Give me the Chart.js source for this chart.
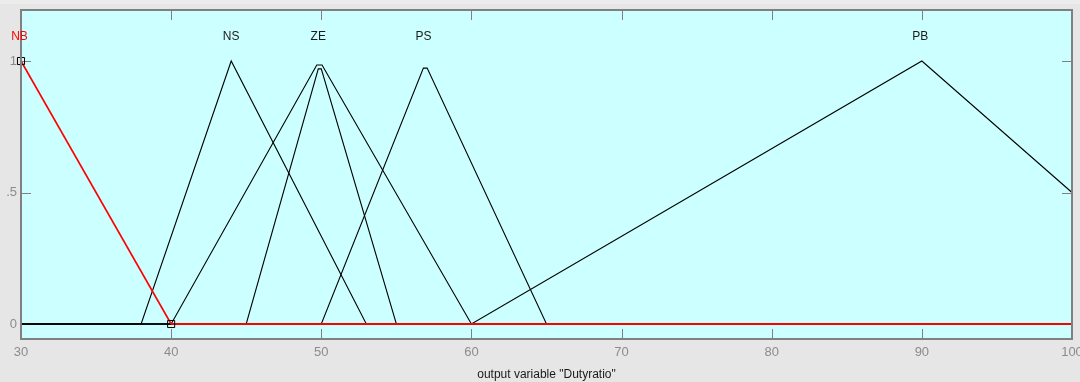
<!DOCTYPE html>
<html>
<head>
<meta charset="utf-8">
<script src="https://cdn.jsdelivr.net/npm/chart.js@4/dist/chart.umd.min.js"></script>
<style>
  body { margin: 0; background: #e6e6e6; }
  canvas { display: block; }
</style>
</head>
<body>
<canvas id="mf" width="1080" height="382"></canvas>
<script>
// Membership functions of output variable "Dutyratio"
const nbX = [30, 40];
const nbY = [1, 0];
const nbTailX = [40, 100];
const nbTailY = [0, 0];

const nsX = [30, 38, 44, 53, 100];
const nsY = [0, 0, 1, 0, 0];

const zeWideX = [30, 40, 49.7, 50.05, 60, 100];
const zeWideY = [0, 0, 0.985, 0.985, 0, 0];

const zeNarrowX = [30, 45, 49.8, 50, 55, 100];
const zeNarrowY = [0, 0, 0.97, 0.97, 0, 0];

const psX = [30, 50, 56.8, 57.05, 65, 100];
const psY = [0, 0, 0.973, 0.973, 0, 0];

const pbX = [30, 60, 90, 100];
const pbY = [0, 0, 1, 0.5];

// labels above each MF
const mfNames = ['NB', 'NS', 'ZE', 'PS', 'PB'];
const mfLabelX = [29.9, 44, 49.8, 56.8, 89.9];
const mfLabelY = 1.092;

// selected-MF handles
const handleX = [30, 40];
const handleY = [1, 0];

const xTicks = [30, 40, 50, 60, 70, 80, 90, 100];
const yTicks = [0, 0.5, 1];
const yTickText = ['0', '.5', '1'];

const pts = (xs, ys) => xs.map((x, i) => ({ x: x, y: ys[i] }));

// lower "order" is drawn on top
function line(xs, ys, color, width, order) {
    return {
        data: pts(xs, ys),
        showLine: true,
        borderColor: color,
        borderWidth: width,
        pointRadius: 0,
        tension: 0,
        order: order
    };
}

// Background, frame, inside ticks and MF names
const decor = {
    id: 'decor',
    beforeDraw(chart) {
        const c = chart.ctx, a = chart.chartArea;
        c.save();
        c.fillStyle = '#e6e6e6';
        c.fillRect(0, 0, chart.width, chart.height);
        c.fillStyle = '#ececec';
        c.fillRect(0, 0, chart.width, 4);
        c.fillStyle = '#ccffff';
        c.fillRect(a.left, a.top, a.right - a.left, a.bottom - a.top);
        c.restore();
    },
    beforeDatasetsDraw(chart) {
        const c = chart.ctx, a = chart.chartArea;
        const xs = chart.scales.x, ys = chart.scales.y;
        c.save();
        c.strokeStyle = '#808080';
        c.lineWidth = 1;
        c.beginPath();
        xTicks.forEach(v => {
            const px = Math.round(xs.getPixelForValue(v)) + 0.5;
            c.moveTo(px, a.top); c.lineTo(px, a.top + 10);
            c.moveTo(px, a.bottom); c.lineTo(px, a.bottom - 10);
        });
        yTicks.forEach(v => {
            const py = Math.round(ys.getPixelForValue(v)) + 0.5;
            c.moveTo(a.left, py); c.lineTo(a.left + 10, py);
            c.moveTo(a.right, py); c.lineTo(a.right - 10, py);
        });
        c.stroke();
        c.restore();
    },
    afterDatasetsDraw(chart) {
        const c = chart.ctx, a = chart.chartArea;
        const xs = chart.scales.x, ys = chart.scales.y;
        c.save();
        c.strokeStyle = '#808080';
        c.lineWidth = 2;
        c.strokeRect(a.left, a.top, a.right - a.left, a.bottom - a.top);

        c.font = '12px "Liberation Sans", Arial, sans-serif';
        c.textAlign = 'center';
        c.textBaseline = 'middle';
        mfNames.forEach((n, i) => {
            c.fillStyle = i === 0 ? '#ff0000' : '#1a1a1a';
            c.fillText(n, xs.getPixelForValue(mfLabelX[i]), ys.getPixelForValue(mfLabelY));
        });
        c.restore();
    }
};

new Chart(document.getElementById('mf'), {
    type: 'scatter',
    data: {
        datasets: [
            line(nsX, nsY, '#000000', 1.1, 5),
            line(zeWideX, zeWideY, '#000000', 1.1, 5),
            line(zeNarrowX, zeNarrowY, '#000000', 1.1, 5),
            line(psX, psY, '#000000', 1.1, 5),
            line(pbX, pbY, '#000000', 1.1, 5),
            line(nbTailX, nbTailY, '#ff0000', 2, 2),
            line(nbX, nbY, '#ff0000', 1.6, 2),
            {
                data: pts(handleX, handleY),
                pointStyle: 'rect',
                pointRadius: 5,
                pointBorderColor: '#000000',
                pointBackgroundColor: 'rgba(0,0,0,0)',
                pointBorderWidth: 1,
                showLine: false,
                order: 0
            }
        ]
    },
    options: {
        responsive: false,
        animation: false,
        clip: false,
        layout: { padding: { top: 10, right: 8, left: 0, bottom: 0 } },
        plugins: { legend: { display: false }, tooltip: { enabled: false } },
        scales: {
            x: {
                type: 'linear',
                min: 30, max: 100,
                afterBuildTicks: s => { s.ticks = xTicks.map(v => ({ value: v })); },
                afterFit: s => { s.height = 43; s.paddingLeft = 0; s.paddingRight = 0; },
                grid: { display: false, drawTicks: false },
                border: { display: false },
                ticks: {
                    padding: 6,
                    color: '#8c8c8c',
                    font: { family: '"Liberation Sans", Arial, sans-serif', size: 13 },
                    maxRotation: 0
                },
                title: {
                    display: true,
                    text: 'output variable "Dutyratio"',
                    color: '#1a1a1a',
                    padding: { top: 1, bottom: 0 },
                    font: { family: '"Liberation Sans", Arial, sans-serif', size: 12 }
                }
            },
            y: {
                type: 'linear',
                min: -0.057, max: 1.194,
                afterBuildTicks: s => { s.ticks = yTicks.map(v => ({ value: v })); },
                afterFit: s => { s.width = 21; s.paddingTop = 0; s.paddingBottom = 0; },
                grid: { display: false, drawTicks: false },
                border: { display: false },
                ticks: {
                    padding: 4,
                    color: '#8c8c8c',
                    font: { family: '"Liberation Sans", Arial, sans-serif', size: 13 },
                    callback: v => yTickText[yTicks.indexOf(v)]
                }
            }
        }
    },
    plugins: [decor]
});
</script>
</body>
</html>
